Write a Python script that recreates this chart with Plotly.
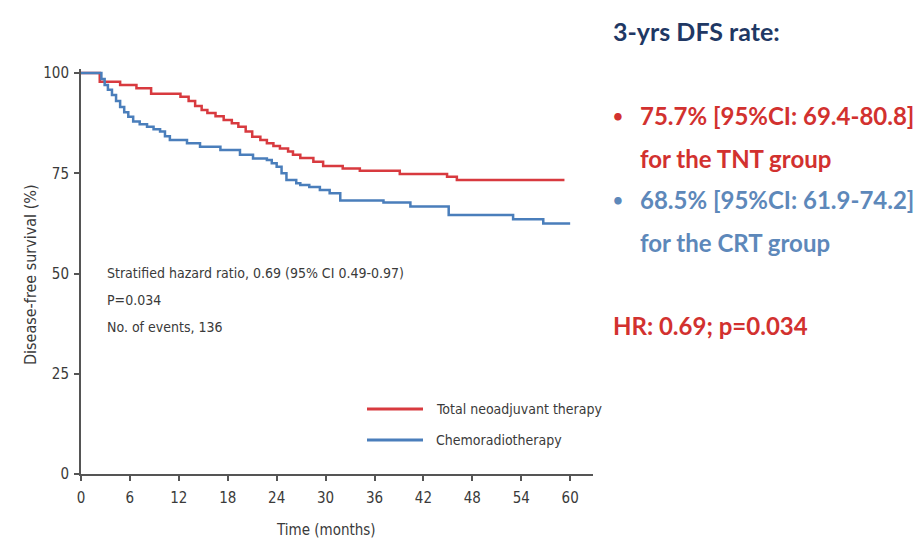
import plotly.graph_objects as go

# ---- data ----
tnt_time = [0, 2.3, 4.8, 6.8, 8.6, 12.2, 13.2, 14.0, 14.8, 15.5, 16.5, 17.5, 18.5, 19.3, 20.2,
            21.0, 22.0, 22.8, 23.6, 24.4, 25.4, 26.0, 26.9, 28.5, 29.7, 32.1, 34.2, 39.1, 44.9, 46.1, 59.3]
tnt_surv = [100, 97.8, 97.0, 96.2, 94.8, 94.1, 93.0, 91.8, 90.8, 90.0, 89.2, 88.3, 87.5, 86.6, 85.4,
            84.1, 83.3, 82.5, 81.8, 81.2, 80.4, 79.6, 78.8, 77.9, 76.8, 76.2, 75.6, 74.8, 74.1, 73.3, 73.3]

crt_time = [0, 2.5, 2.9, 3.3, 3.8, 4.3, 4.8, 5.3, 5.8, 6.4, 7.2, 8.1, 8.9, 9.7, 10.3, 10.9, 13.0,
            14.6, 17.1, 19.5, 21.1, 22.8, 23.4, 24.0, 24.6, 25.2, 26.4, 26.9, 28.0, 29.3, 30.5, 31.8,
            37.1, 40.4, 45.1, 53.0, 56.7, 60.0]
crt_surv = [100, 98.5, 97.0, 95.8, 94.5, 93.0, 91.5, 90.2, 89.1, 87.9, 87.2, 86.6, 86.0, 85.4, 84.2,
            83.3, 82.5, 81.6, 80.8, 79.6, 78.7, 78.3, 77.5, 76.6, 75.0, 73.3, 72.5, 72.1, 71.6, 70.8,
            70.0, 68.2, 67.7, 66.7, 64.6, 63.5, 62.5, 62.5]

series_names = ["Total neoadjuvant therapy", "Chemoradiotherapy"]
x_ticks = [0, 6, 12, 18, 24, 30, 36, 42, 48, 54, 60]
y_ticks = [0, 25, 50, 75, 100]

stats_lines = ["Stratified hazard ratio, 0.69 (95% CI 0.49-0.97)", "P=0.034", "No. of events, 136"]
side_title = "3-yrs DFS rate:"
tnt_rate = ["75.7% [95%CI: 69.4-80.8]", "for the TNT group"]
crt_rate = ["68.5% [95%CI: 61.9-74.2]", "for the CRT group"]
hr_text = "HR: 0.69; p=0.034"

RED = "#d83a3f"
BLUE = "#4a7ebb"
TXT_RED = "#d2312f"
TXT_BLUE = "#5d88ba"
NAVY = "#1f3864"
AX = "#555555"
TXT = "#3a3a3a"
NARROW = "DejaVu Sans Condensed, Liberation Sans, sans-serif"
SIDE = "Lato, Open Sans, sans-serif"

W, H = 922, 547
L, R, T, B = 81, 593, 69, 474  # plot area in pixels


def px(x):
    return (x - L) / (R - L)


def py(y):
    return (B - y) / (B - T)


fig = go.Figure()
fig.add_trace(go.Scatter(x=tnt_time, y=tnt_surv, mode="lines", line=dict(color=RED, width=2.5, shape="hv"),
                         name=series_names[0]))
fig.add_trace(go.Scatter(x=crt_time, y=crt_surv, mode="lines", line=dict(color=BLUE, width=2.5, shape="hv"),
                         name=series_names[1]))

ann = []
for i, t in enumerate(stats_lines):
    ann.append(dict(x=px(105), y=py([273, 300, 327][i]), xref="paper", yref="paper", text=t,
                    showarrow=False, xanchor="left", yanchor="middle",
                    font=dict(family=NARROW, size=14, color=TXT)))

# axis titles
ann.append(dict(x=px(30), y=py(275), xref="paper", yref="paper", text="Disease-free survival (%)",
                textangle=-90, showarrow=False, xanchor="center", yanchor="middle",
                font=dict(family=NARROW, size=16, color=TXT)))
ann.append(dict(x=px(326), y=py(530), xref="paper", yref="paper", text="Time (months)",
                showarrow=False, xanchor="center", yanchor="middle",
                font=dict(family=NARROW, size=15, color=TXT)))

# legend (custom)
shapes = []
for i, (nm, col) in enumerate(zip(series_names, [RED, BLUE])):
    yy = [409, 440][i]
    shapes.append(dict(type="line", xref="paper", yref="paper", x0=px(367), x1=px(423), y0=py(yy), y1=py(yy),
                       line=dict(color=col, width=3)))
    ann.append(dict(x=px(434), y=py(yy), xref="paper", yref="paper", text=nm, showarrow=False,
                    xanchor="left", yanchor="middle", font=dict(family=NARROW, size=14, color=TXT)))


# side text
def side(text, x, y, color, size=24):
    ann.append(dict(x=px(x), y=py(y), xref="paper", yref="paper", text="<b>" + text + "</b>",
                    showarrow=False, xanchor="left", yanchor="middle",
                    font=dict(family=SIDE, size=size, color=color)))


side(side_title, 611, 31, NAVY, 25)
side("•", 611, 115, TXT_RED, 17)
side(tnt_rate[0], 638, 115, TXT_RED)
side(tnt_rate[1], 638, 158, TXT_RED)
side("•", 611, 200, TXT_BLUE, 17)
side(crt_rate[0], 638, 200, TXT_BLUE)
side(crt_rate[1], 638, 243, TXT_BLUE)
side(hr_text, 611, 325, TXT_RED)

fig.update_layout(
    width=W, height=H,
    margin=dict(l=L, r=W - R, t=T, b=H - B, pad=0),
    paper_bgcolor="white", plot_bgcolor="white",
    showlegend=False,
    annotations=ann, shapes=shapes,
    xaxis=dict(range=[0, 62.8], tickvals=x_ticks, ticktext=[str(v) for v in x_ticks],
               showgrid=False, zeroline=False, showline=True, linecolor=AX, linewidth=2,
               ticks="outside", ticklen=5, tickwidth=1.5, tickcolor=AX, ticklabelstandoff=4,
               tickfont=dict(family=NARROW, size=15, color=TXT)),
    yaxis=dict(range=[0, 101], tickvals=y_ticks, ticktext=[str(v) for v in y_ticks],
               showgrid=False, zeroline=False, showline=True, linecolor=AX, linewidth=2,
               ticks="outside", ticklen=5, tickwidth=1.5, tickcolor=AX, ticklabelstandoff=2,
               tickfont=dict(family=NARROW, size=15, color=TXT)),
)

fig.write_html("out.html", config={"displayModeBar": False},
               post_script="document.body.style.margin='0';")
